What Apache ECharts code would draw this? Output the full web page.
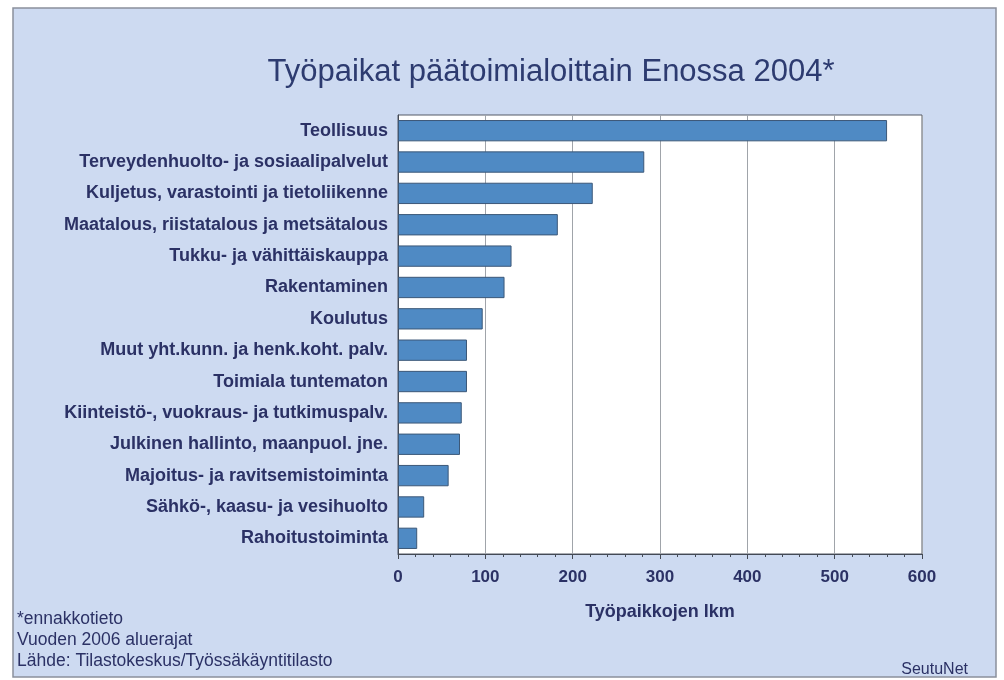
<!DOCTYPE html>
<html>
<head>
<meta charset="utf-8">
<script src="https://cdn.jsdelivr.net/npm/echarts@6/dist/echarts.min.js"></script>
<style>
  html, body { margin: 0; padding: 0; background: #fff; }
  #chart { width: 1004px; height: 680px; }
</style>
</head>
<body>
<div id="chart"></div>
<script>
var categories = [
  "Teollisuus",
  "Terveydenhuolto- ja sosiaalipalvelut",
  "Kuljetus, varastointi ja tietoliikenne",
  "Maatalous, riistatalous ja metsätalous",
  "Tukku- ja vähittäiskauppa",
  "Rakentaminen",
  "Koulutus",
  "Muut yht.kunn. ja henk.koht. palv.",
  "Toimiala tuntematon",
  "Kiinteistö-, vuokraus- ja tutkimuspalv.",
  "Julkinen hallinto, maanpuol. jne.",
  "Majoitus- ja ravitsemistoiminta",
  "Sähkö-, kaasu- ja vesihuolto",
  "Rahoitustoiminta"
];
var jobs = [560, 282, 223, 183, 130, 122, 97, 79, 79, 73, 71, 58, 30, 22];
var footnotes = ["*ennakkotieto", "Vuoden 2006 aluerajat", "Lähde: Tilastokeskus/Työssäkäyntitilasto"];

var textColor = "#2b3165";
var fontFam = "'Liberation Sans', Arial, sans-serif";
var chart = echarts.init(document.getElementById("chart"));

// footnote lines, bottom left
var footGraphics = footnotes.map(function (t, i) {
  return {
    type: "text", left: 17, top: 610 + i * 21,
    style: { text: t, fill: textColor, font: "17.5px " + fontFam }
  };
});

chart.setOption({
  backgroundColor: "#ffffff",
  animation: false,
  graphic: [
    { type: "rect", shape: { x: 13, y: 8, width: 983, height: 669 },
      style: { fill: "#cddaf1", stroke: "#8a909c", lineWidth: 1.5 }, z: -10 },
    { type: "text", right: 36, top: 662,
      style: { text: "SeutuNet", fill: textColor, font: "16px " + fontFam } }
  ].concat(footGraphics),
  title: {
    text: "Työpaikat päätoimialoittain Enossa 2004*",
    left: 546, top: 52, textAlign: "center",
    textStyle: { color: "#2d3b70", fontSize: 31, fontWeight: "normal", fontFamily: fontFam }
  },
  grid: { left: 398, right: 82, top: 115, bottom: 126, show: true, backgroundColor: "#ffffff",
    borderColor: "#555a66", borderWidth: 1 },
  xAxis: {
    type: "value", min: 0, max: 600, interval: 100,
    name: "Työpaikkojen lkm", nameLocation: "middle", nameGap: 49,
    nameTextStyle: { color: textColor, fontSize: 18, fontWeight: "bold", fontFamily: fontFam },
    axisLine: { show: true, lineStyle: { color: "#444a55", width: 1 } },
    axisTick: { show: true, length: 5, lineStyle: { color: "#444a55" } },
    minorTick: { show: true, splitNumber: 5, length: 3, lineStyle: { color: "#444a55" } },
    axisLabel: { color: textColor, fontSize: 17, fontWeight: "bold", margin: 15, fontFamily: fontFam },
    splitLine: { show: true, lineStyle: { color: "#a0a4aa", width: 1 } }
  },
  yAxis: {
    type: "category", inverse: true, data: categories,
    axisLine: { show: true, lineStyle: { color: "#444a55" } },
    axisTick: { show: false },
    axisLabel: { color: textColor, fontSize: 18, fontWeight: "bold", margin: 10, fontFamily: fontFam }
  },
  series: [{
    type: "bar", data: jobs, barCategoryGap: "32%",
    itemStyle: { color: "#4f8ac4", borderColor: "#3c5878", borderWidth: 1 }
  }]
});
</script>
</body>
</html>
